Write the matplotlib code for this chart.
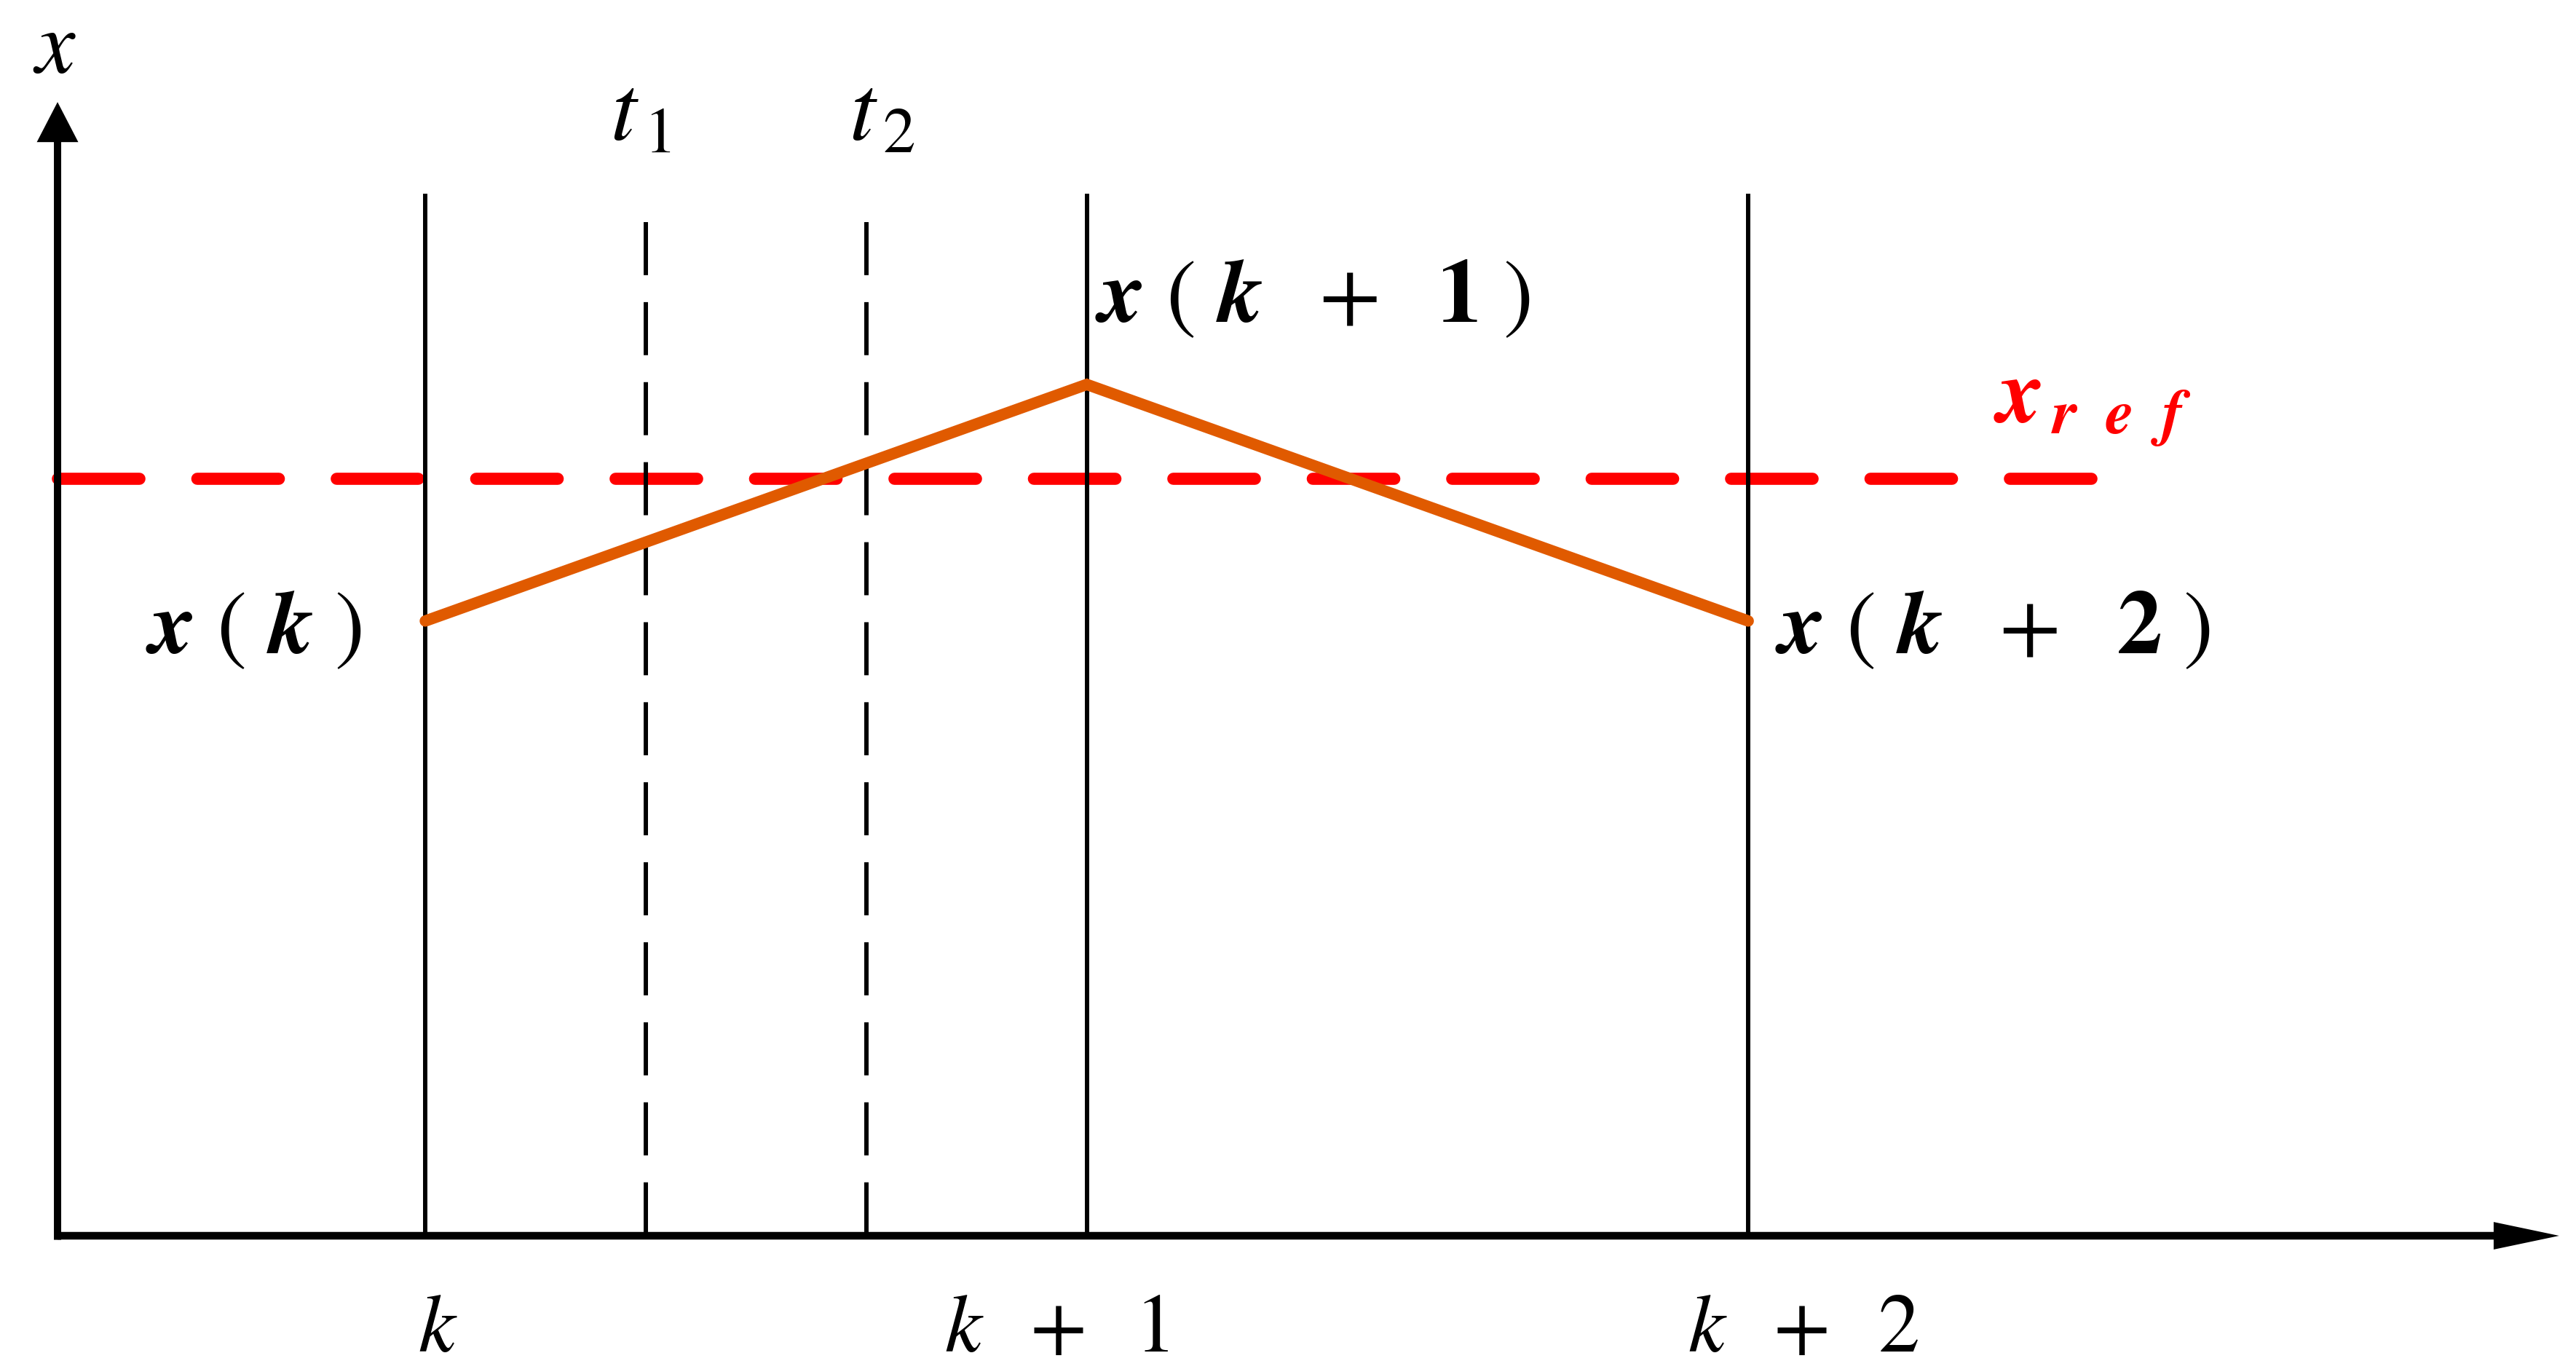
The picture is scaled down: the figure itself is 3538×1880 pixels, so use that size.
import numpy as np
import matplotlib.pyplot as plt
from matplotlib.patches import FancyArrow

plt.rcParams['mathtext.fontset'] = 'stix'

# sampling instants, measured in sampling periods from k
t_grid = [0, 1, 2]
grid_labels = [r'$k\,$', r'$k\ \;+\ \;1$', r'$k\ \;+\ \;2$']
# intermediate instants t1, t2
t_sub = [0.333, 0.667]
sub_labels = [r'$t_{\,1}$', r'$t_{\,2}$']
# state trajectory and reference
x_vals = [0.603, 0.835, 0.603]
x_labels = [r'$\mathbfit{x}\ (\ \mathbfit{k}\ )$',
            r'$\mathbfit{x}\ (\ \mathbfit{k}\ \ +\ \ \mathbf{1}\ )$',
            r'$\mathbfit{x}\ (\ \mathbfit{k}\ \ +\ \ \mathbf{2}\ )$']
x_ref = 0.743

W, H = 3538, 1880
fig = plt.figure(figsize=(W / 100, H / 100), dpi=100)
ax = fig.add_axes([0, 0, 1, 1])
ax.set_xlim(-0.643, 3.2515)
ax.set_ylim(-0.1307, 1.2121)
ax.axis('off')

# reference level (dashed red)
ax.plot([-0.556, 2.54], [x_ref, x_ref], color='#FF0000', lw=12,
        dashes=(6.72, 4.77), dash_capstyle='round', zorder=2)

# sampling instants
ax.vlines(t_grid, 0, 1.022, colors='black', lw=4.3, zorder=3)
for t in t_sub:
    ax.plot([t, t], [0.994, 0], color='black', lw=4.3,
            dashes=(12.2, 6.2), zorder=3)

# trajectory
ax.plot(t_grid, x_vals, color='#E05A00', lw=11.3,
        solid_capstyle='round', solid_joinstyle='miter', zorder=4)

# axes with arrow heads
ax.add_patch(FancyArrow(-0.556, 0, 3.226 + 0.556, 0, width=0.0075,
                        head_width=0.027, head_length=0.099,
                        length_includes_head=True, color='black', lw=0, zorder=5))
ax.add_patch(FancyArrow(-0.556, -0.004, 0, 1.116, width=0.011,
                        head_width=0.0627, head_length=0.0393,
                        length_includes_head=True, color='black', lw=0, zorder=5))

# text
fs = 82
ax.text(-0.561, 1.165, r'$x$', fontsize=88, ha='center', va='center')
ax.text(t_sub[0] - 0.008, 1.10, sub_labels[0], fontsize=92, ha='center', va='center')
ax.text(t_sub[1] + 0.023, 1.10, sub_labels[1], fontsize=92, ha='center', va='center')

tick_dx = [0.019, -0.045, 0.084]
for t, lab, dx in zip(t_grid, grid_labels, tick_dx):
    ax.text(t + dx, -0.1136, lab, fontsize=fs, ha='center', va='baseline')

bfs = 89
ax.text(t_grid[0] - 0.096, x_vals[0] - 0.007, x_labels[0], fontsize=bfs,
        ha='right', va='center')
ax.text(t_grid[1] + 0.013, 0.921, x_labels[1], fontsize=bfs,
        ha='left', va='center')
ax.text(t_grid[2] + 0.041, x_vals[2] - 0.007, x_labels[2], fontsize=bfs,
        ha='left', va='center')
ax.text(2.371, 0.798,
        r'$\mathbfit{x}_{\,\mathbfit{r}\ \;\mathbfit{e}\ \;\mathbfit{f}}$',
        fontsize=90, color='#FF0000', ha='left', va='baseline')

fig.savefig('out.png', dpi=100)
